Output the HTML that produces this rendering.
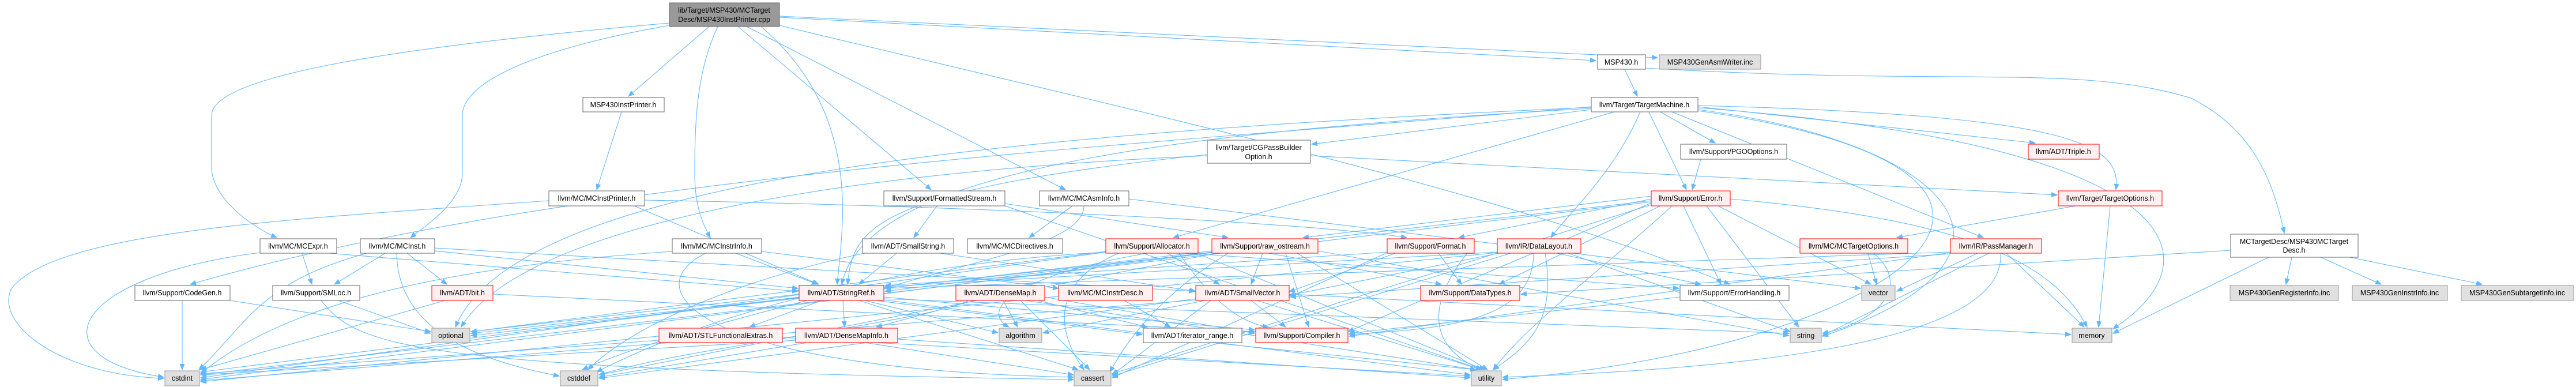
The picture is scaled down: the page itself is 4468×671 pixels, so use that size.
<!DOCTYPE html>
<html><head><meta charset="utf-8"><style>
html,body{margin:0;padding:0;background:#fff;}
svg{display:block;}
text{font-family:"Liberation Sans",Arial,sans-serif;font-size:12.5px;fill:#000;}
.e path{fill:none;stroke:#63b8ff;stroke-width:1.1;}
</style></head><body>
<svg width="4468" height="671" viewBox="0 0 4468 671" xmlns="http://www.w3.org/2000/svg">
<defs><marker id="a" markerUnits="userSpaceOnUse" markerWidth="11" markerHeight="9" refX="10" refY="4" orient="auto"><path d="M0,0 L10,4 L0,8 z" fill="#63b8ff" stroke="#63b8ff"/></marker></defs>
<g class="e" marker-end="url(#a)">
<path d="M1230 46 L1090 167"/>
<path d="M1161 40 C700 80 367 130 367 200 L367 290 C367 340 430 390 480 412"/>
<path d="M1161 44 C900 90 802 150 802 200 L802 300 C802 350 740 390 712 412"/>
<path d="M1245 46 C1210 120 1205 200 1205 300 C1205 360 1220 390 1232 412"/>
<path d="M1280 46 L1615 329"/>
<path d="M1295 46 L1848 329"/>
<path d="M1352 30 L2768 105"/>
<path d="M1352 28 L2875 100"/>
<path d="M1352 44 C2000 200 2600 330 3000 493"/>
<path d="M1320 46 C1500 200 1460 400 1452 493"/>
<path d="M1078 194 L1035 329"/>
<path d="M952 348 C500 380 100 400 20 500 C-10 560 100 650 284 656"/>
<path d="M1118 347 C1800 360 2300 390 2440 412"/>
<path d="M1100 357 L1420 493"/>
<path d="M524 439 L541 493"/>
<path d="M451 438 C120 480 60 620 284 654"/>
<path d="M570 439 L1384 505"/>
<path d="M668 439 L580 493"/>
<path d="M706 439 L775 493"/>
<path d="M636 439 C450 490 430 560 345 641"/>
<path d="M754 430 L2072 505"/>
<path d="M688 439 C690 560 800 620 970 652"/>
<path d="M754 435 L1384 500"/>
<path d="M1276 439 L1418 493"/>
<path d="M1321 436 L1836 500"/>
<path d="M1224 439 C1100 500 1200 640 1862 654"/>
<path d="M1166 436 C800 460 500 520 348 648"/>
<path d="M399 521 L747 575"/>
<path d="M316 521 L316 641"/>
<path d="M587 521 L747 578"/>
<path d="M557 521 C620 600 700 640 1862 658"/>
<path d="M772 521 L348 641"/>
<path d="M855 510 L2176 575"/>
<path d="M1425 521 L1300 567"/>
<path d="M1462 521 L1465 567"/>
<path d="M1500 521 L1731 577"/>
<path d="M1520 521 L1981 580"/>
<path d="M1533 515 L2176 572"/>
<path d="M1490 521 L1870 641"/>
<path d="M1400 521 C1250 560 1100 600 1010 641"/>
<path d="M1533 518 L3103 578"/>
<path d="M1533 520 L2550 650"/>
<path d="M1386 510 L817 575"/>
<path d="M1386 515 L348 645"/>
<path d="M1500 594 L1862 650"/>
<path d="M1400 594 L1039 654"/>
<path d="M1380 590 L348 650"/>
<path d="M1557 588 L2550 655"/>
<path d="M1143 590 L348 648"/>
<path d="M1357 585 L2550 652"/>
<path d="M1690 521 L1520 567"/>
<path d="M1740 521 L1765 567"/>
<path d="M1770 521 L1890 641"/>
<path d="M1680 521 C1600 560 1200 600 1039 650"/>
<path d="M1780 521 L2560 641"/>
<path d="M1812 515 L2176 578"/>
<path d="M1800 521 L1990 567"/>
<path d="M1950 521 L2030 567"/>
<path d="M2170 521 L2230 567"/>
<path d="M2090 521 L1809 577"/>
<path d="M2100 521 L1929 650"/>
<path d="M2074 518 L1039 656"/>
<path d="M2180 521 L2570 641"/>
<path d="M2074 520 L348 660"/>
<path d="M2236 510 L3592 580"/>
<path d="M2100 594 L2560 641"/>
<path d="M2914 515 L2340 578"/>
<path d="M1625 357 L1585 412"/>
<path d="M1743 353 L2130 412"/>
<path d="M1743 357 L2570 641"/>
<path d="M1860 357 L1785 412"/>
<path d="M1880 357 C1880 420 1700 450 1533 500"/>
<path d="M1958 345 L3227 500"/>
<path d="M1555 439 L1490 493"/>
<path d="M1630 439 L2074 505"/>
<path d="M1500 439 C1300 480 1100 560 1020 641"/>
<path d="M2025 439 L2115 493"/>
<path d="M2045 439 C2100 520 2150 560 2200 567"/>
<path d="M2060 439 L2912 500"/>
<path d="M1990 439 C1750 480 1700 540 1750 567"/>
<path d="M1940 439 C1800 500 1850 600 1880 641"/>
<path d="M1920 437 C1500 460 1200 560 1035 645"/>
<path d="M1918 437 L348 655"/>
<path d="M2075 439 L2575 641"/>
<path d="M1918 436 L817 575"/>
<path d="M2190 439 L2170 493"/>
<path d="M2102 437 L1535 505"/>
<path d="M2200 439 L2500 493"/>
<path d="M2130 439 C2000 520 1950 600 1925 645"/>
<path d="M2110 439 L1039 650"/>
<path d="M2102 438 L348 658"/>
<path d="M2286 435 L3103 582"/>
<path d="M2110 437 L817 578"/>
<path d="M2230 439 L2270 567"/>
<path d="M2250 439 L2580 641"/>
<path d="M2495 439 L2535 493"/>
<path d="M2406 437 L1535 495"/>
<path d="M2420 439 L2236 506"/>
<path d="M2545 439 C2480 520 2470 600 2570 641"/>
<path d="M2406 438 L1929 655"/>
<path d="M2597 437 L1535 497"/>
<path d="M2600 439 L2236 512"/>
<path d="M2700 439 L2950 493"/>
<path d="M2660 439 C2660 560 2500 570 2340 580"/>
<path d="M2620 439 L1929 652"/>
<path d="M2597 438 L348 662"/>
<path d="M2720 439 L3105 575"/>
<path d="M2680 439 C2700 560 2650 600 2590 641"/>
<path d="M2864 340 L2260 412"/>
<path d="M2864 345 L2530 412"/>
<path d="M2920 357 L2985 493"/>
<path d="M2880 357 L2600 493"/>
<path d="M2864 352 L2338 575"/>
<path d="M2864 355 L1929 648"/>
<path d="M2960 357 L3120 567"/>
<path d="M2980 357 L3245 493"/>
<path d="M3001 345 C3400 380 3560 450 3620 567"/>
<path d="M2900 357 C2800 450 2650 560 2590 641"/>
<path d="M2864 350 L348 650"/>
<path d="M2864 348 L817 582"/>
<path d="M3240 439 L3255 493"/>
<path d="M3250 439 C3320 500 3250 560 3161 578"/>
<path d="M3430 439 L3290 505"/>
<path d="M3480 439 L3615 567"/>
<path d="M3450 439 L3161 582"/>
<path d="M3470 439 C3480 600 3000 640 2606 654"/>
<path d="M3383 437 L1535 500"/>
<path d="M3383 440 L2238 515"/>
<path d="M3383 438 L2340 583"/>
<path d="M3600 357 L3290 412"/>
<path d="M3660 357 L3640 567"/>
<path d="M2760 185 C2000 250 1000 300 330 493"/>
<path d="M2760 190 L2275 250"/>
<path d="M2880 194 L2975 248"/>
<path d="M2945 185 L3530 248"/>
<path d="M2945 183 C3600 200 3680 250 3670 329"/>
<path d="M2860 194 L2925 329"/>
<path d="M2845 194 C2800 300 2720 370 2690 412"/>
<path d="M2900 194 L3440 412"/>
<path d="M2800 194 L2035 412"/>
<path d="M2760 188 C2000 230 1500 300 1460 493"/>
<path d="M2760 186 C1800 230 900 300 790 567"/>
<path d="M2945 190 C3400 250 3560 450 3161 583"/>
<path d="M2945 187 C3800 250 3850 450 3665 570"/>
<path d="M2945 192 C3700 300 3300 600 2606 658"/>
<path d="M2273 270 L3568 338"/>
<path d="M2094 270 C1400 300 900 400 800 567"/>
<path d="M2094 268 C1500 330 1480 400 1470 493"/>
<path d="M2950 276 L2935 329"/>
<path d="M2818 120 L2840 167"/>
<path d="M2854 118 C3400 150 3600 110 3800 170 C3900 220 3940 300 3962 404"/>
<path d="M3975 446 L3965 493"/>
<path d="M4025 446 L4130 493"/>
<path d="M4075 446 L4305 493"/>
<path d="M3869 434 L2638 510"/>
<path d="M3935 446 L3665 578"/>
</g>
<g text-anchor="middle">
<!-- root -->
<rect x="1161" y="5" width="191" height="41" fill="#999" stroke="#666"/>
<text x="1256" y="22">lib/Target/MSP430/MCTarget</text><text x="1256" y="38">Desc/MSP430InstPrinter.cpp</text>
<!-- white nodes -->
<g fill="#fff" stroke="#666">
<rect x="2771" y="95" width="83" height="25"/>
<rect x="1011" y="169" width="141" height="25"/>
<rect x="2760" y="169" width="185" height="25"/>
<rect x="2094" y="243" width="179" height="40"/>
<rect x="2915" y="250" width="184" height="26"/>
<rect x="952" y="331" width="166" height="26"/>
<rect x="1533" y="331" width="210" height="26"/>
<rect x="1803" y="331" width="155" height="26"/>
<rect x="3869" y="406" width="221" height="40"/>
<rect x="451" y="414" width="133" height="25"/>
<rect x="625" y="414" width="129" height="25"/>
<rect x="1166" y="414" width="155" height="25"/>
<rect x="1496" y="414" width="158" height="25"/>
<rect x="1678" y="414" width="165" height="25"/>
<rect x="234" y="495" width="165" height="26"/>
<rect x="473" y="495" width="151" height="26"/>
<rect x="2914" y="495" width="189" height="26"/>
<rect x="1983" y="569" width="171" height="25"/>
</g>
<!-- red nodes -->
<g fill="#fff0f0" stroke="#ff0000">
<rect x="3518" y="250" width="123" height="26"/>
<rect x="2864" y="331" width="137" height="26"/>
<rect x="3570" y="331" width="180" height="26"/>
<rect x="1918" y="414" width="160" height="25"/>
<rect x="2102" y="414" width="184" height="25"/>
<rect x="2406" y="414" width="151" height="25"/>
<rect x="2597" y="414" width="145" height="25"/>
<rect x="3122" y="414" width="187" height="25"/>
<rect x="3383" y="414" width="158" height="25"/>
<rect x="749" y="495" width="106" height="26"/>
<rect x="1386" y="495" width="147" height="26"/>
<rect x="1658" y="495" width="154" height="26"/>
<rect x="1836" y="495" width="163" height="26"/>
<rect x="2074" y="495" width="162" height="26"/>
<rect x="2464" y="495" width="172" height="26"/>
<rect x="1143" y="569" width="214" height="25"/>
<rect x="1380" y="569" width="177" height="25"/>
<rect x="2178" y="569" width="160" height="25"/>
</g>
<!-- gray nodes -->
<g fill="#e0e0e0" stroke="#999">
<rect x="2878" y="95" width="176" height="25"/>
<rect x="3229" y="495" width="58" height="26"/>
<rect x="3868" y="495" width="188" height="26"/>
<rect x="4080" y="495" width="165" height="26"/>
<rect x="4269" y="495" width="195" height="26"/>
<rect x="749" y="569" width="66" height="25"/>
<rect x="1733" y="569" width="74" height="25"/>
<rect x="3105" y="569" width="54" height="25"/>
<rect x="3594" y="569" width="69" height="25"/>
<rect x="286" y="643" width="60" height="26"/>
<rect x="972" y="643" width="65" height="26"/>
<rect x="1863" y="643" width="64" height="26"/>
<rect x="2552" y="643" width="52" height="26"/>
</g>
<text x="2812" y="112">MSP430.h</text>
<text x="2966" y="112">MSP430GenAsmWriter.inc</text>
<text x="1081" y="186">MSP430InstPrinter.h</text>
<text x="2852" y="186">llvm/Target/TargetMachine.h</text>
<text x="2183" y="260">llvm/Target/CGPassBuilder</text><text x="2183" y="276">Option.h</text>
<text x="3007" y="267">llvm/Support/PGOOptions.h</text>
<text x="3579" y="267">llvm/ADT/Triple.h</text>
<text x="1035" y="348">llvm/MC/MCInstPrinter.h</text>
<text x="1638" y="348">llvm/Support/FormattedStream.h</text>
<text x="1880" y="348">llvm/MC/MCAsmInfo.h</text>
<text x="2932" y="348">llvm/Support/Error.h</text>
<text x="3660" y="348">llvm/Target/TargetOptions.h</text>
<text x="3979" y="423">MCTargetDesc/MSP430MCTarget</text><text x="3979" y="438">Desc.h</text>
<text x="517" y="431">llvm/MC/MCExpr.h</text>
<text x="689" y="431">llvm/MC/MCInst.h</text>
<text x="1243" y="431">llvm/MC/MCInstrInfo.h</text>
<text x="1575" y="431">llvm/ADT/SmallString.h</text>
<text x="1760" y="431">llvm/MC/MCDirectives.h</text>
<text x="1998" y="431">llvm/Support/Allocator.h</text>
<text x="2194" y="431">llvm/Support/raw_ostream.h</text>
<text x="2481" y="431">llvm/Support/Format.h</text>
<text x="2669" y="431">llvm/IR/DataLayout.h</text>
<text x="3215" y="431">llvm/MC/MCTargetOptions.h</text>
<text x="3462" y="431">llvm/IR/PassManager.h</text>
<text x="316" y="512">llvm/Support/CodeGen.h</text>
<text x="548" y="512">llvm/Support/SMLoc.h</text>
<text x="802" y="512">llvm/ADT/bit.h</text>
<text x="1459" y="512">llvm/ADT/StringRef.h</text>
<text x="1735" y="512">llvm/ADT/DenseMap.h</text>
<text x="1917" y="512">llvm/MC/MCInstrDesc.h</text>
<text x="2155" y="512">llvm/ADT/SmallVector.h</text>
<text x="2550" y="512">llvm/Support/DataTypes.h</text>
<text x="3008" y="512">llvm/Support/ErrorHandling.h</text>
<text x="3258" y="512">vector</text>
<text x="3962" y="512">MSP430GenRegisterInfo.inc</text>
<text x="4162" y="512">MSP430GenInstrInfo.inc</text>
<text x="4366" y="512">MSP430GenSubtargetInfo.inc</text>
<text x="782" y="586">optional</text>
<text x="1250" y="586">llvm/ADT/STLFunctionalExtras.h</text>
<text x="1468" y="586">llvm/ADT/DenseMapInfo.h</text>
<text x="1770" y="586">algorithm</text>
<text x="2068" y="586">llvm/ADT/iterator_range.h</text>
<text x="2258" y="586">llvm/Support/Compiler.h</text>
<text x="3132" y="586">string</text>
<text x="3628" y="586">memory</text>
<text x="316" y="660">cstdint</text>
<text x="1004" y="660">cstddef</text>
<text x="1895" y="660">cassert</text>
<text x="2578" y="660">utility</text>
</g>
</svg>
</body></html>
